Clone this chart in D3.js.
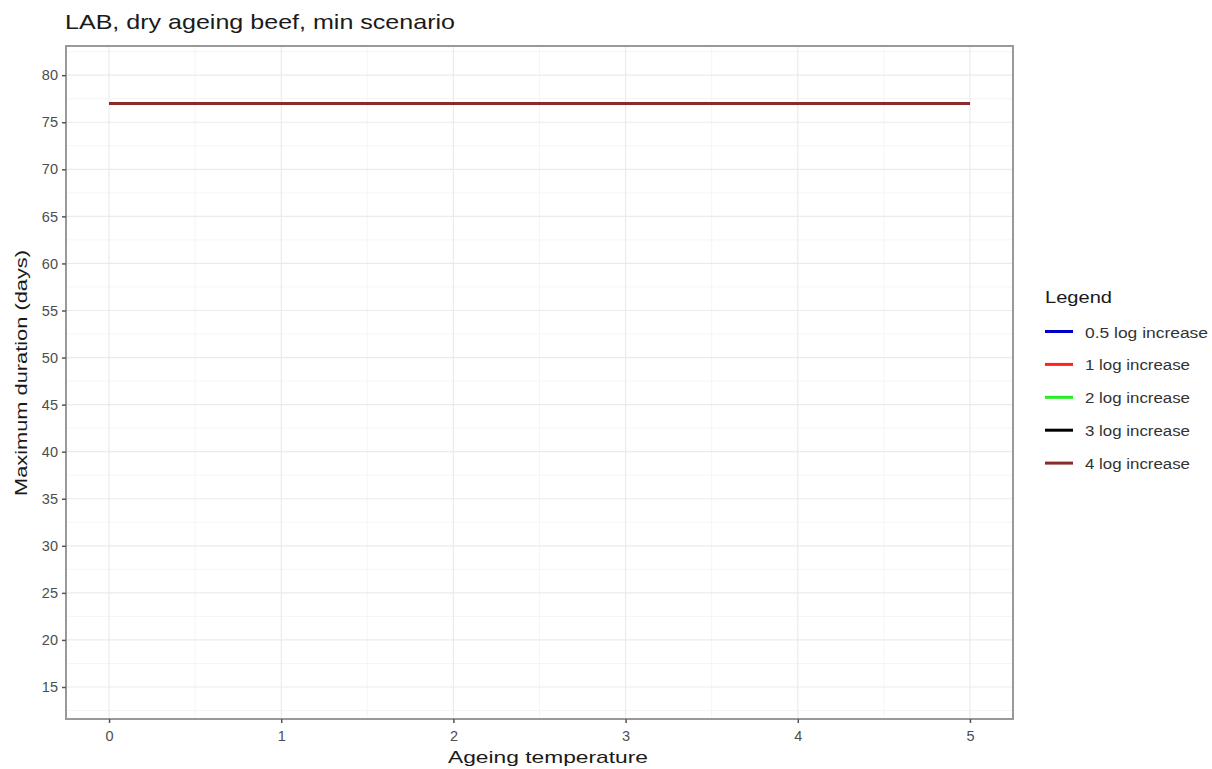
<!DOCTYPE html>
<html><head><meta charset="utf-8">
<script src="https://cdn.jsdelivr.net/npm/d3@7"></script>
<style>body{margin:0;background:#fff;font-family:"Liberation Sans",Arial,sans-serif;}</style>
</head><body><svg id="c" width="1212" height="769"></svg>
<script>
const temperatures = [0, 1, 2, 3, 4, 5];
const seriesNames = ["0.5 log increase", "1 log increase", "2 log increase", "3 log increase", "4 log increase"];
const seriesColors = ["#0000CC", "#FF2020", "#22EE22", "#000000", "#8B2A2A"];
const durLog05 = [77, 77, 77, 77, 77, 77];
const durLog1 = [77, 77, 77, 77, 77, 77];
const durLog2 = [77, 77, 77, 77, 77, 77];
const durLog3 = [77, 77, 77, 77, 77, 77];
const durLog4 = [77, 77, 77, 77, 77, 77];
const seriesValues = [durLog05, durLog1, durLog2, durLog3, durLog4];
const yTicks = [15, 20, 25, 30, 35, 40, 45, 50, 55, 60, 65, 70, 75, 80];
const xTicks = [0, 1, 2, 3, 4, 5];

const svg = d3.select("#c");
const FF = "Liberation Sans, Arial, sans-serif";
const L = 66, R = 1013, T = 46, B = 719;
const x = d3.scaleLinear().domain([-0.25, 5.25]).range([L, R]);
const y = d3.scaleLinear().domain([11.6, 83.1]).range([B, T]);

// grid
const g = svg.append("g");
const yMinor = d3.range(12.5, 83, 5);
const xMinor = d3.range(-0.5, 5.6, 1).filter(v => v > -0.25 && v < 5.25);
g.selectAll(".ym").data(yMinor).enter().append("line")
  .attr("x1", L).attr("x2", R).attr("y1", d => y(d)).attr("y2", d => y(d))
  .attr("stroke", "#F3F3F3").attr("stroke-width", 0.8);
g.selectAll(".xm").data(xMinor).enter().append("line")
  .attr("y1", T).attr("y2", B).attr("x1", d => x(d)).attr("x2", d => x(d))
  .attr("stroke", "#F3F3F3").attr("stroke-width", 0.8);
g.selectAll(".yM").data(yTicks).enter().append("line")
  .attr("x1", L).attr("x2", R).attr("y1", d => y(d)).attr("y2", d => y(d))
  .attr("stroke", "#EBEBEB").attr("stroke-width", 1.2);
g.selectAll(".xM").data(xTicks).enter().append("line")
  .attr("y1", T).attr("y2", B).attr("x1", d => x(d)).attr("x2", d => x(d))
  .attr("stroke", "#EBEBEB").attr("stroke-width", 1.2);

// lines
const line = d3.line().x((d, i) => x(temperatures[i])).y(d => y(d));
seriesValues.forEach((vals, i) => {
  svg.append("path").datum(vals).attr("d", line).attr("fill", "none")
    .attr("stroke", seriesColors[i]).attr("stroke-width", 3);
});

// panel border
svg.append("rect").attr("x", L).attr("y", T).attr("width", R - L).attr("height", B - T)
  .attr("fill", "none").attr("stroke", "#999").attr("stroke-width", 2);

// axes
const yAxis = d3.axisLeft(y).tickValues(yTicks).tickSize(4).tickPadding(4);
const ya = svg.append("g").attr("transform", `translate(${L},0)`).call(yAxis);
ya.select(".domain").remove();
ya.selectAll("line").attr("stroke", "#555").attr("stroke-width", 1.5);
ya.selectAll("text").attr("fill", "#4D4D4D").style("font-size", "14.5px").style("font-family", FF);

const xAxis = d3.axisBottom(x).tickValues(xTicks).tickSize(4).tickPadding(8).tickFormat(d3.format("d"));
const xa = svg.append("g").attr("transform", `translate(0,${B})`).call(xAxis);
xa.select(".domain").remove();
xa.selectAll("line").attr("stroke", "#555").attr("stroke-width", 1.5);
xa.selectAll("text").attr("fill", "#4D4D4D").style("font-size", "14.5px").style("font-family", FF);

// titles
svg.append("text").attr("x", 65).attr("y", 29).text("LAB, dry ageing beef, min scenario")
  .attr("textLength", 390).attr("lengthAdjust", "spacingAndGlyphs")
  .style("font-size", "21px").style("font-family", FF).attr("fill", "#1a1a1a");
svg.append("text").attr("x", 448).attr("y", 763)
  .text("Ageing temperature").attr("textLength", 200).attr("lengthAdjust", "spacingAndGlyphs")
  .style("font-size", "17px").style("font-family", FF).attr("fill", "#1a1a1a");
svg.append("text").attr("transform", `translate(27,${373 + 123}) rotate(-90)`)
  .text("Maximum duration (days)").attr("textLength", 246).attr("lengthAdjust", "spacingAndGlyphs")
  .style("font-size", "17px").style("font-family", FF).attr("fill", "#1a1a1a");

// legend
const lg = svg.append("g").attr("transform", "translate(1045,0)");
lg.append("text").attr("x", 0).attr("y", 303).text("Legend")
  .attr("textLength", 67).attr("lengthAdjust", "spacingAndGlyphs")
  .style("font-size", "17px").style("font-family", FF).attr("fill", "#1a1a1a");
const labelLens = [123, 105, 105, 105, 105];
seriesNames.forEach((n, i) => {
  const yy = 331.5 + i * 32.9;
  lg.append("line").attr("x1", 0).attr("x2", 28).attr("y1", yy).attr("y2", yy)
    .attr("stroke", seriesColors[i]).attr("stroke-width", 3);
  lg.append("text").attr("x", 40).attr("y", yy + 6).text(n)
    .attr("textLength", labelLens[i]).attr("lengthAdjust", "spacingAndGlyphs")
    .style("font-size", "14px").style("font-family", FF).attr("fill", "#333");
});
</script></body></html>
